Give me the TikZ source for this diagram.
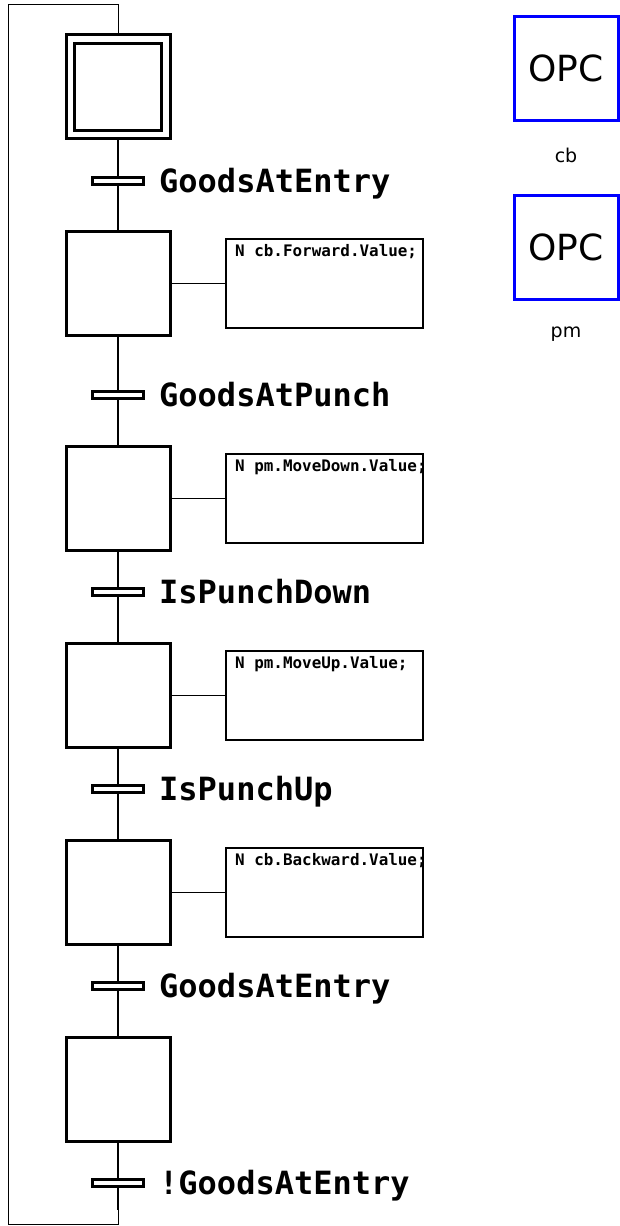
\documentclass[tikz,border=0pt]{standalone}
\usepackage{fontspec}
\setmainfont{DejaVu Sans}
\setmonofont{DejaVu Sans Mono}
\begin{document}
\begin{tikzpicture}[x=1pt,y=-1pt,
  stepbox/.style={draw, line width=3pt, minimum width=104pt, minimum height=104pt, inner sep=0pt},
  trans/.style={draw, fill=white, line width=2.8pt, minimum width=51pt, minimum height=7.5pt, inner sep=0pt},
  tlabel/.style={anchor=base west, inner sep=0pt, font=\ttfamily\bfseries\fontsize{32}{32}\selectfont},
  actbox/.style={draw, line width=1.2pt, minimum width=197pt, minimum height=89pt, inner sep=0pt},
  acttext/.style={anchor=base west, inner sep=0pt, font=\ttfamily\bfseries\fontsize{15.9}{16}\selectfont},
  opcbox/.style={draw=blue, line width=3pt, minimum width=104pt, minimum height=104pt, inner sep=0pt, font=\fontsize{36}{36}\selectfont},
  opclabel/.style={inner sep=0pt, font=\fontsize{19}{19}\selectfont},
  link/.style={line width=1.8pt},
  loopline/.style={line width=0.9pt}
]
\useasboundingbox (0,0) rectangle (619,1226);

% steps
\node[stepbox] (s1) at (118,86.5) {};
\node[draw, line width=3pt, minimum width=87pt, minimum height=87pt, inner sep=0pt] (s1in) at (118,86.5) {};
\node[stepbox] (s2) at (118,283.5) {};
\node[stepbox] (s3) at (118,498.5) {};
\node[stepbox] (s4) at (118,695.5) {};
\node[stepbox] (s5) at (118,892.5) {};
\node[stepbox] (s6) at (118,1089.5) {};

% transitions
\node[trans] (t1) at (118,181) {};
\node[trans] (t2) at (118,395) {};
\node[trans] (t3) at (118,592) {};
\node[trans] (t4) at (118,789) {};
\node[trans] (t5) at (118,986) {};
\node[trans] (t6) at (118,1183) {};

\node[tlabel] (l1) at (159,192.5) {GoodsAtEntry};
\node[tlabel] (l2) at (159,406.5) {GoodsAtPunch};
\node[tlabel] (l3) at (159,603.5) {IsPunchDown};
\node[tlabel] (l4) at (159,800.5) {IsPunchUp};
\node[tlabel] (l5) at (159,997.5) {GoodsAtEntry};
\node[tlabel] (l6) at (159,1194.5) {!GoodsAtEntry};

% links
\draw[link] (s1.south) -- (t1.north);
\draw[link] (t1.south) -- (s2.north);
\draw[link] (s2.south) -- (t2.north);
\draw[link] (t2.south) -- (s3.north);
\draw[link] (s3.south) -- (t3.north);
\draw[link] (t3.south) -- (s4.north);
\draw[link] (s4.south) -- (t4.north);
\draw[link] (t4.south) -- (s5.north);
\draw[link] (s5.south) -- (t5.north);
\draw[link] (t5.south) -- (s6.north);
\draw[link] (s6.south) -- (t6.north);

% loop back
\coordinate (lb) at (118,1224.5);
\coordinate (lbl) at (8,1224.5);
\coordinate (ltl) at (8,4.5);
\coordinate (lt) at (118,4.5);
\draw[link] (t6.south) -- (118,1210);
\draw[loopline] (118,1210) -- (lb) -- (lbl) -- (ltl) -- (lt) -- (s1.north);

% actions
\node[actbox] (a2) at (324.5,283.5) {};
\node[actbox] (a3) at (324.5,498.5) {};
\node[actbox] (a4) at (324.5,695.5) {};
\node[actbox] (a5) at (324.5,892.5) {};
\draw[link] (s2.east) -- (a2.west);
\draw[link] (s3.east) -- (a3.west);
\draw[link] (s4.east) -- (a4.west);
\draw[link] (s5.east) -- (a5.west);
\node[acttext] (x2) at (235,256) {N cb.Forward.Value;};
\begin{scope}
\clip (a3.south west) rectangle (a3.north east);
\node[acttext] (x3) at (235,471) {N pm.MoveDown.Value;};
\end{scope}
\node[acttext] (x4) at (235,668) {N pm.MoveUp.Value;};
\node[acttext] (x5) at (235,865) {N cb.Backward.Value;};

% OPC blocks
\node[opcbox] (o1) at (566,68.5) {OPC};
\node[opclabel] (c1) at (566,155) {cb};
\node[opcbox] (o2) at (566,247.5) {OPC};
\node[opclabel] (c2) at (566,334) {pm};
\end{tikzpicture}
\end{document}
